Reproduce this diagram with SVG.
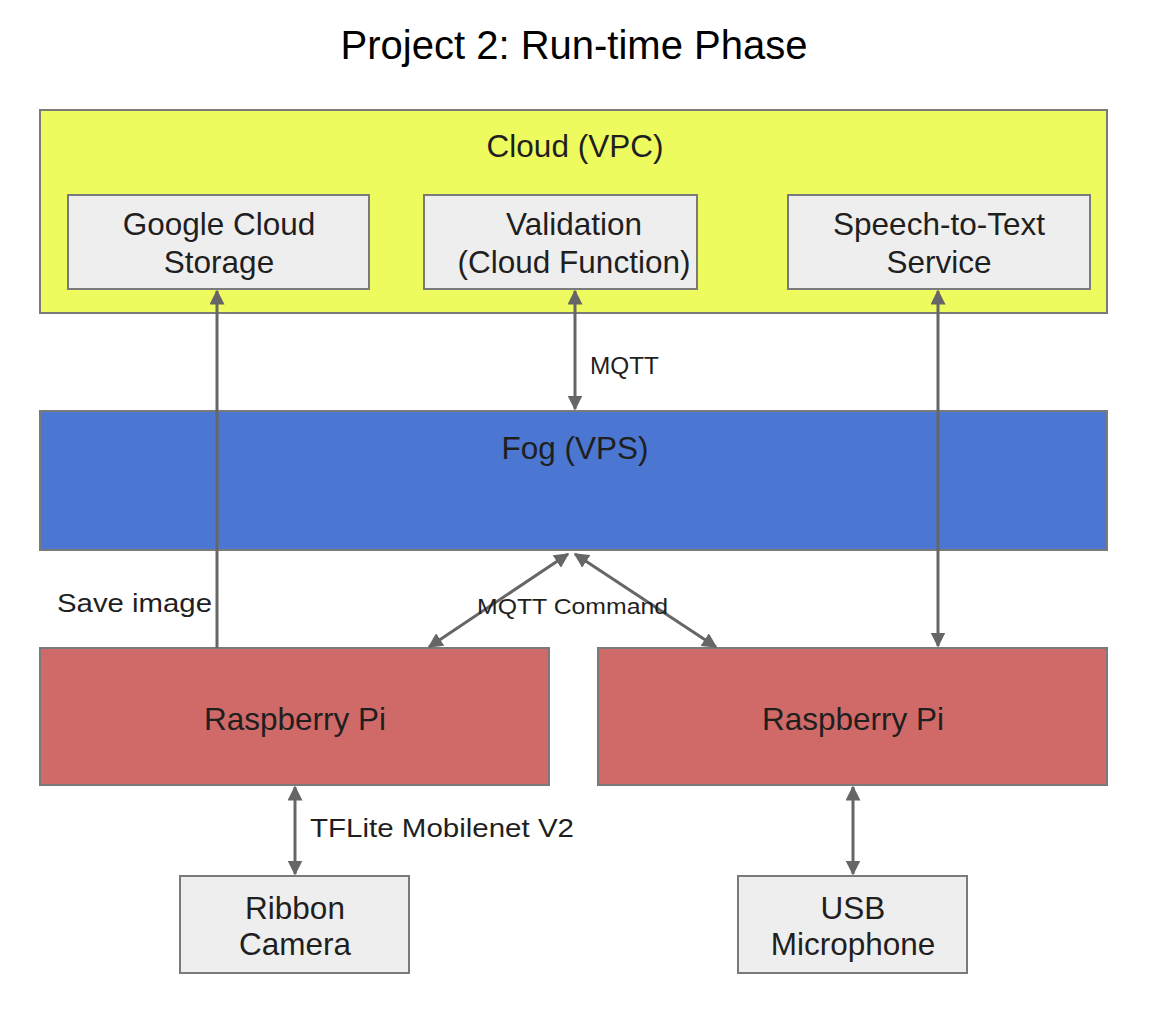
<svg xmlns="http://www.w3.org/2000/svg" width="1172" height="1030" viewBox="0 0 1172 1030">
<style>
text{font-family:"Liberation Sans",Arial,sans-serif;fill:#1f1f1f;text-anchor:middle}
.box{stroke:#7a7a7a;stroke-width:2}
.grey{fill:#eeeeee}
.lbl{font-size:31.5px}
.small{text-anchor:start}
.con{stroke:#666;stroke-width:3;fill:none}
</style>
<defs>
<marker id="ah" viewBox="0 0 10 10" refX="9" refY="5" markerWidth="5" markerHeight="5" orient="auto-start-reverse" markerUnits="strokeWidth">
<path d="M0,0 L10,5 L0,10 z" fill="#666"/>
</marker>
</defs>
<rect width="1172" height="1030" fill="#fff"/>
<text x="574" y="59" style="font-size:40px;fill:#000">Project 2: Run-time Phase</text>

<g id="cloud">
<rect class="box" x="40" y="110" width="1067" height="203" fill="#eefb5e"/>
<text class="lbl" x="575" y="157">Cloud (VPC)</text>
</g>
<g id="gcs">
<rect class="box grey" x="68" y="195" width="301" height="94"/>
<text class="lbl" x="219" y="235">Google Cloud</text>
<text class="lbl" x="219" y="273">Storage</text>
</g>
<g id="validation">
<rect class="box grey" x="424" y="195" width="273" height="94"/>
<text class="lbl" x="574" y="235">Validation</text>
<text class="lbl" x="574" y="273">(Cloud Function)</text>
</g>
<g id="speech">
<rect class="box grey" x="788" y="195" width="302" height="94"/>
<text class="lbl" x="939" y="235">Speech-to-Text</text>
<text class="lbl" x="939" y="273">Service</text>
</g>
<g id="fog">
<rect class="box" x="40" y="411" width="1067" height="139" fill="#4b77d2"/>
<text class="lbl" x="575" y="459">Fog (VPS)</text>
</g>
<g id="rpi1">
<rect class="box" x="40" y="648" width="509" height="137" fill="#d06a68"/>
<text class="lbl" x="295" y="730">Raspberry Pi</text>
</g>
<g id="rpi2">
<rect class="box" x="598" y="648" width="509" height="137" fill="#d06a68"/>
<text class="lbl" x="853" y="730">Raspberry Pi</text>
</g>
<g id="camera">
<rect class="box grey" x="180" y="876" width="229" height="97"/>
<text class="lbl" x="295" y="919">Ribbon</text>
<text class="lbl" x="295" y="955">Camera</text>
</g>
<g id="mic">
<rect class="box grey" x="738" y="876" width="229" height="97"/>
<text class="lbl" x="853" y="919">USB</text>
<text class="lbl" x="853" y="955">Microphone</text>
</g>

<g id="connectors">
<line class="con" x1="217" y1="648" x2="217" y2="291" marker-end="url(#ah)"/>
<line class="con" x1="575" y1="291" x2="575" y2="409" marker-start="url(#ah)" marker-end="url(#ah)"/>
<line class="con" x1="938" y1="291" x2="938" y2="646" marker-start="url(#ah)" marker-end="url(#ah)"/>
<line class="con" x1="568" y1="554" x2="429" y2="647" marker-start="url(#ah)" marker-end="url(#ah)"/>
<line class="con" x1="575" y1="554" x2="716" y2="647" marker-start="url(#ah)" marker-end="url(#ah)"/>
<line class="con" x1="295" y1="787" x2="295" y2="874" marker-start="url(#ah)" marker-end="url(#ah)"/>
<line class="con" x1="853" y1="787" x2="853" y2="874" marker-start="url(#ah)" marker-end="url(#ah)"/>
<text class="small" x="590" y="374" style="font-size:23px" textLength="69" lengthAdjust="spacingAndGlyphs">MQTT</text>
<text class="small" x="57" y="612" style="font-size:26px" textLength="155" lengthAdjust="spacingAndGlyphs">Save image</text>
<text class="small" x="477" y="614" style="font-size:22px" textLength="191" lengthAdjust="spacingAndGlyphs">MQTT Command</text>
<text class="small" x="310" y="837" style="font-size:25px" textLength="264" lengthAdjust="spacingAndGlyphs">TFLite Mobilenet V2</text>
</g>
</svg>
